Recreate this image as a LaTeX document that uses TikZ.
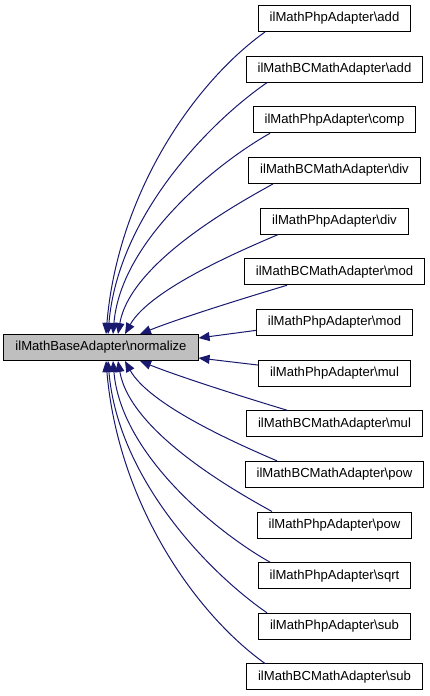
\documentclass[tikz,border=0pt]{standalone}
\usepackage{fontspec}
\setmainfont{Liberation Sans}
\usetikzlibrary{arrows.meta,calc}
\definecolor{edgecol}{HTML}{191970}
\definecolor{basefill}{HTML}{BFBFBF}
\tikzset{
  box/.style={draw=black, line width=1bp, minimum height=26bp, inner xsep=11.5bp, inner ysep=0pt,
    font=\fontsize{13.1bp}{15bp}\selectfont, anchor=center},
  basebox/.style={box, fill=basefill},
  edge/.style={draw=edgecol, line width=1bp, -{Triangle[length=11bp,width=9bp]}},
}
\begin{document}
\begin{tikzpicture}[x=1bp,y=-1bp]
\useasboundingbox (0,0) rectangle (429,696);
\node[basebox] (base) at (101,347.5) {ilMathBaseAdapter\textbackslash normalize};
\node[box] (r1) at (334.5,18.5) {ilMathPhpAdapter\textbackslash add};
\node[box] (r2) at (334.5,69.15) {ilMathBCMathAdapter\textbackslash add};
\node[box] (r3) at (334.5,119.8) {ilMathPhpAdapter\textbackslash comp};
\node[box] (r4) at (334.5,170.45) {ilMathBCMathAdapter\textbackslash div};
\node[box] (r5) at (334.5,221.1) {ilMathPhpAdapter\textbackslash div};
\node[box] (r6) at (334.5,271.75) {ilMathBCMathAdapter\textbackslash mod};
\node[box] (r7) at (334.5,322.4) {ilMathPhpAdapter\textbackslash mod};
\node[box] (r8) at (334.5,373.05) {ilMathPhpAdapter\textbackslash mul};
\node[box] (r9) at (334.5,423.7) {ilMathBCMathAdapter\textbackslash mul};
\node[box] (r10) at (334.5,474.35) {ilMathBCMathAdapter\textbackslash pow};
\node[box] (r11) at (334.5,525) {ilMathPhpAdapter\textbackslash pow};
\node[box] (r12) at (334.5,575.65) {ilMathPhpAdapter\textbackslash sqrt};
\node[box] (r13) at (334.5,626.3) {ilMathPhpAdapter\textbackslash sub};
\node[box] (r14) at (334.5,676.95) {ilMathBCMathAdapter\textbackslash sub};
% upper edges
\draw[edge] ($(r1.south)+(-69.5,0)$) .. controls +(-70,50) and +(12,-142) .. ($(base.north)+(5,0)$);
\draw[edge] ($(r2.south)+(-67.5,0)$) .. controls +(-58,40) and +(10,-118) .. ($(base.north)+(7,0)$);
\draw[edge] ($(r3.south)+(-64.5,0)$) .. controls +(-50,28) and +(8,-95) .. ($(base.north)+(12,0)$);
\draw[edge] ($(r4.south)+(-61.5,0)$) .. controls +(-40,22) and +(12,-70) .. ($(base.north)+(17,0)$);
\draw[edge] ($(r5.south)+(-56.5,0)$) .. controls +(-35,15) and +(25,-45) .. ($(base.north)+(24,0)$);
\draw[edge] ($(r6.south)+(-47.5,0)$) .. controls +(-40,12) and +(40,-16) .. ($(base.north)+(39,0)$);
\draw[edge] ($(r7.west)+(0,8)$) -- ($(base.east)+(0,-9.5)$);
% lower edges
\draw[edge] ($(r8.west)+(0,-8)$) -- ($(base.east)+(0,10.5)$);
\draw[edge] ($(r9.north)+(-47.5,0)$) .. controls +(-40,-12) and +(40,16) .. ($(base.south)+(39,0)$);
\draw[edge] ($(r10.north)+(-57.5,0)$) .. controls +(-35,-15) and +(25,45) .. ($(base.south)+(24,0)$);
\draw[edge] ($(r11.north)+(-62.5,0)$) .. controls +(-40,-22) and +(12,70) .. ($(base.south)+(17,0)$);
\draw[edge] ($(r12.north)+(-64.5,0)$) .. controls +(-50,-28) and +(8,95) .. ($(base.south)+(12,0)$);
\draw[edge] ($(r13.north)+(-67.5,0)$) .. controls +(-58,-40) and +(10,118) .. ($(base.south)+(7,0)$);
\draw[edge] ($(r14.north)+(-69.5,0)$) .. controls +(-70,-50) and +(12,142) .. ($(base.south)+(5,0)$);
\end{tikzpicture}
\end{document}
